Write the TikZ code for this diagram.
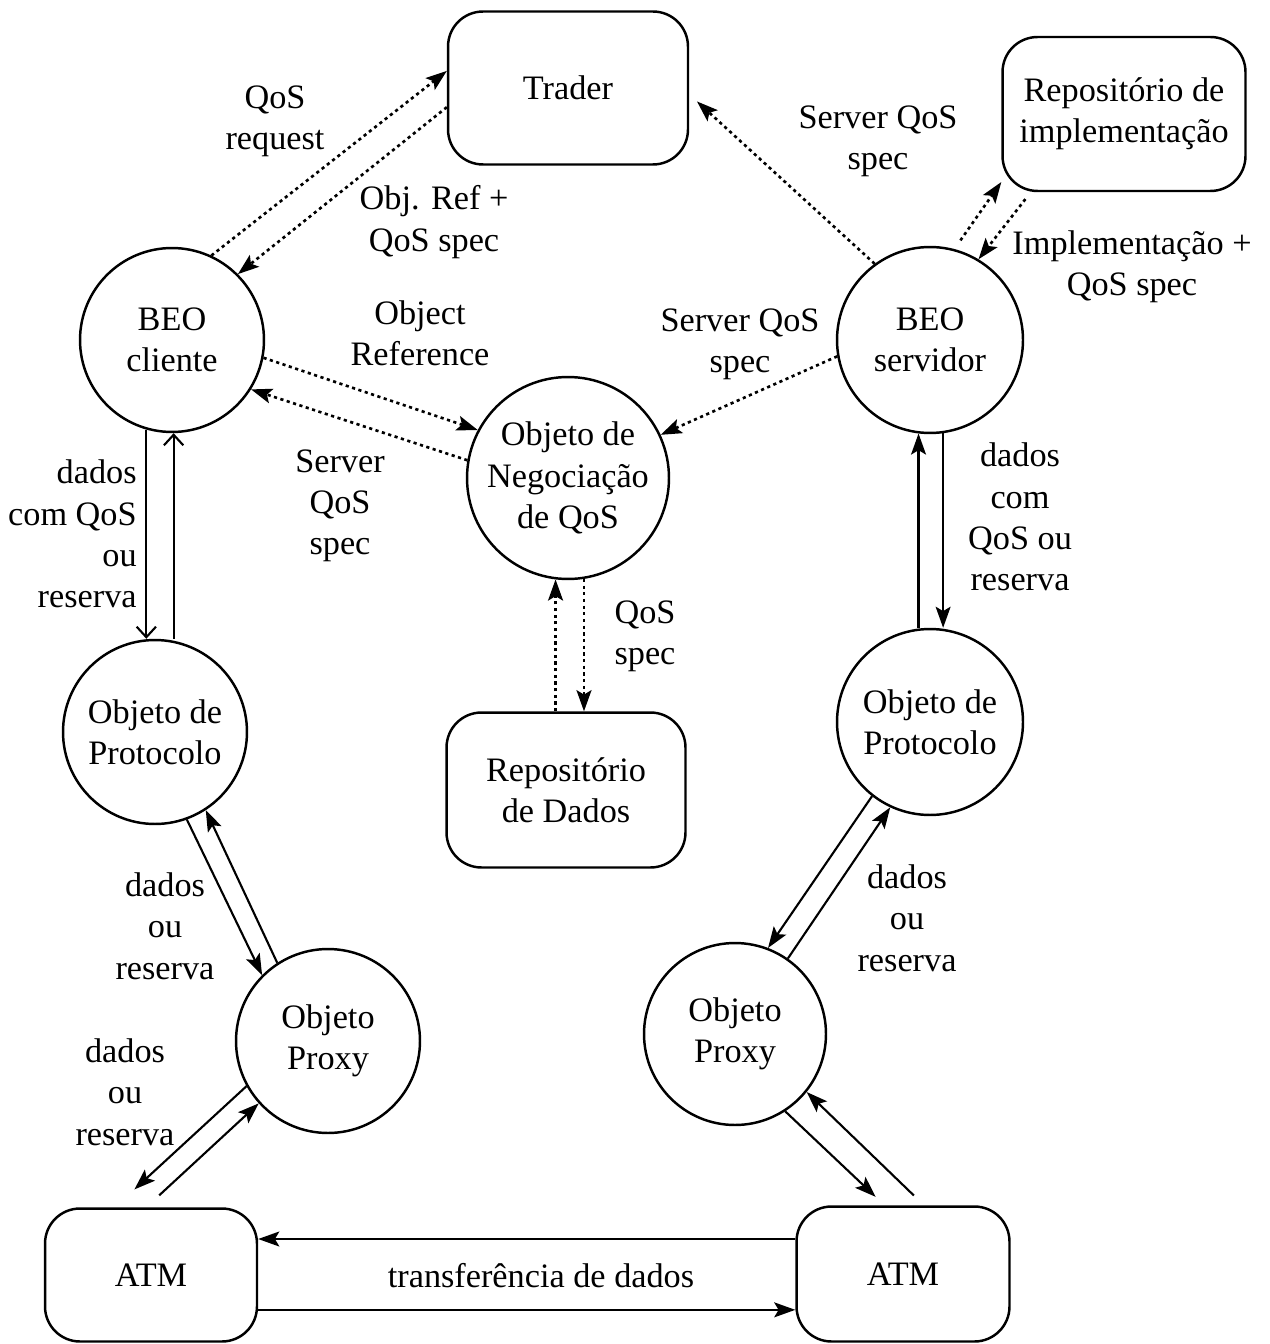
\documentclass[tikz,border=0pt]{standalone}
\usepackage{fontspec}
\setmainfont{Liberation Serif}
\usetikzlibrary{arrows.meta}
\begin{document}
\begin{tikzpicture}[x=0.02cm,y=-0.02cm,
  every node/.style={font=\fontsize{19.5}{23.5}\selectfont},
  box/.style={draw,line width=1.4pt,rounded corners=0.7cm,inner sep=0pt,align=center},
  obj/.style={draw,circle,line width=1.4pt,inner sep=0pt,align=center},
  lbl/.style={align=center,inner sep=0pt},
  flow/.style={line width=1.2pt,-{Stealth[length=12pt,width=8.5pt,inset=2.5pt]}},
  negot/.style={flow,line width=1.5pt,dash pattern=on 1.8pt off 2pt},
  openflow/.style={line width=1.2pt,-{Straight Barb[length=6pt,width=11pt]}},
]
\useasboundingbox (0,0) rectangle (1269,1344);

% components
\node[box,minimum width=4.8cm,minimum height=3.06cm] (trader) at (568,88) {Trader};
\node[box,minimum width=4.86cm,minimum height=3.08cm] (repimpl) at (1124,114) {Repositório de\\implementação};
\node[obj,minimum size=3.68cm] (beoc) at (172,340) {BEO\\cliente};
\node[obj,minimum size=3.72cm] (beos) at (930,340) {BEO\\servidor};
\node[obj,minimum size=4.04cm] (neg) at (568,478) {Objeto de\\Negociação\\de QoS};
\node[box,minimum width=4.78cm,minimum height=3.1cm] (repdados) at (566,790) {Repositório\\de Dados};
\node[obj,minimum size=3.68cm] (protl) at (155,732) {Objeto de\\Protocolo};
\node[obj,minimum size=3.72cm] (protr) at (930,722) {Objeto de\\Protocolo};
\node[obj,minimum size=3.68cm] (proxl) at (328,1041) {Objeto\\Proxy};
\node[obj,minimum size=3.64cm] (proxr) at (735,1034) {Objeto\\Proxy};
\node[box,minimum width=4.24cm,minimum height=2.66cm] (atml) at (151,1275) {ATM};
\node[box,minimum width=4.26cm,minimum height=2.7cm] (atmr) at (903,1274) {ATM};

% negotiation messages (dotted)
\draw[negot] (beoc.65) -- (trader.172);
\draw[negot] (trader.189) -- (beoc.45);
\draw[negot,shorten >=6pt] (beos.126) -- (trader.-3);
\draw[negot,shorten <=6pt] (beos.75) -- (repimpl.209);
\draw[negot,shorten <=5pt] (repimpl.220) -- (beos.59);
\draw[negot] (beos.190) -- (neg.25);
\draw[negot] (beoc.-11) -- (neg.152);
\draw[negot] (neg.170) -- (beoc.-32);
\draw[negot] (neg.-97 |- repdados.north) -- (neg.-97);
\draw[negot] (neg.-81) -- (neg.-81 |- repdados.north);

% data paths (solid)
\draw[openflow] (beoc.-106) -- (beoc.-106 |- protl.north);
\draw[openflow] (beoc.-89 |- protl.north) -- (beoc.-89);
\draw[flow] (beos.-97 |- protr.north) -- (beos.-97);
\draw[flow] (beos.-82) -- (beos.-82 |- protr.north);
\draw[flow] (protl.-70) -- (proxl.135);
\draw[flow] (proxl.123) -- (protl.-57);
\draw[flow,shorten >=15pt] (proxl.209) -- (atml.118);
\draw[flow,shorten <=10pt] (atml.94) -- (proxl.222);
\draw[flow] (atmr.162) -- (atmr.162 -| atml.east);
\draw[flow] (atml.-18) -- (atml.-18 -| atmr.west);
\draw[flow] (protr.-128) -- (proxr.69);
\draw[flow] (proxr.55) -- (protr.-115);
\draw[flow,shorten >=7pt] (proxr.-57) -- (atmr.105);
\draw[flow,shorten <=8pt] (atmr.73) -- (proxr.-39);

% labels
\node[lbl] (l1) at (275,121) {QoS\\request};
\node[lbl] (l2) at (434,222) {Obj. Ref +\\QoS spec};
\node[lbl] (l3) at (878,141) {Server QoS\\spec};
\node[lbl] (l4) at (1132,267) {Implementação +\\QoS spec};
\node[lbl] (l5) at (420,333) {Object\\Reference};
\node[lbl] (l6) at (740,344) {Server QoS\\spec};
\node[lbl] (l7) at (340,506) {Server\\QoS\\spec};
\node[lbl,align=right,anchor=east] (l8) at (137,534) {dados\\com QoS\\ou\\reserva};
\node[lbl] (l9) at (1020,517) {dados\\com\\QoS ou\\reserva};
\node[lbl] (l10) at (645,636) {QoS\\spec};
\node[lbl] (l11) at (165,926) {dados\\ou\\reserva};
\node[lbl] (l12) at (125,1092) {dados\\ou\\reserva};
\node[lbl] (l13) at (907,918) {dados\\ou\\reserva};
\node[lbl] (l14) at (541,1276) {transferência de dados};
\end{tikzpicture}
\end{document}
